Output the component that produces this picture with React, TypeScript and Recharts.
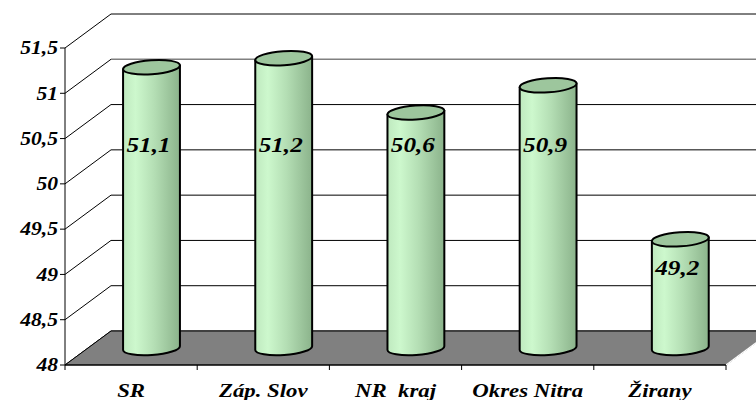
import React from 'react';
import { BarChart, Bar, XAxis, YAxis, ReferenceLine, LabelList } from 'recharts';

const categories = ['SR', 'Záp. Slov', 'NR  kraj', 'Okres Nitra', 'Žirany'];
const values = [51.1, 51.2, 50.6, 50.9, 49.2];
const yTicks = [48, 48.5, 49, 49.5, 50, 50.5, 51, 51.5];

const data = categories.map((name, i) => ({ name, value: values[i] }));

// 3d look: back wall offset and the half-depth offset for the cylinders
const DEPTH_X = 46;
const DEPTH_Y = 34;
const BAR_DX = 20;
const BAR_DY = 17;
const W = 756;
const H = 400;
const PLOT_LEFT = 65;
const PLOT_RIGHT = 726;
const PLOT_BOTTOM = 365;
const BAND = (PLOT_RIGHT - PLOT_LEFT) / categories.length;
// the original text is stretched sideways
const STRETCH = 1.2;

const fontStyle: React.CSSProperties = {
  fontFamily: '"Liberation Serif", "Times New Roman", serif',
  fontWeight: 'bold',
  fontStyle: 'italic',
  fill: '#000',
  whiteSpace: 'pre',
};

function WideText({ x, y, size, anchor, children }: any) {
  return (
    <text
      x={0}
      y={0}
      dy="0.35em"
      textAnchor={anchor}
      fontSize={size}
      style={fontStyle}
      transform={`translate(${x},${y}) scale(${STRETCH},1)`}
    >
      {children}
    </text>
  );
}

function WallLine(props: any) {
  const { x1, y1, x2, value } = props;
  const stroke = value === 51 ? '#808080' : '#000';
  return (
    <g>
      <line x1={x1} y1={y1} x2={x1 + DEPTH_X} y2={y1 - DEPTH_Y} stroke="#000" strokeWidth={1} />
      <line x1={x1 + DEPTH_X} y1={y1 - DEPTH_Y} x2={x2 + DEPTH_X} y2={y1 - DEPTH_Y} stroke={stroke} strokeWidth={value === 51 ? 1.5 : 1} />
    </g>
  );
}

function Floor(props: any) {
  const { x1, y1, x2 } = props;
  const pts = [
    [x1, y1],
    [x2, y1],
    [x2 + DEPTH_X, y1 - DEPTH_Y],
    [x1 + DEPTH_X, y1 - DEPTH_Y],
  ]
    .map((p) => p.join(','))
    .join(' ');
  return (
    <g>
      <polygon points={pts} fill="#808080" stroke="#000" strokeWidth={1} />
      <line x1={x2} y1={y1} x2={x2 + DEPTH_X} y2={y1 - DEPTH_Y} stroke="#fff" strokeWidth={1.5} />
    </g>
  );
}

function Cylinder(props: any) {
  const { x, y, width, height } = props;
  if (width == null || height == null) return null;
  const cx = x + width / 2 + BAR_DX;
  const top = y - BAR_DY;
  const bottom = y + height - BAR_DY;
  const rx = width / 2;
  const ry = 7;
  const a = (4 * Math.PI) / 180;
  const ex = rx * Math.cos(a);
  const ey = rx * Math.sin(a);
  const body =
    `M${cx - ex},${top + ey} L${cx - ex},${bottom + ey} ` +
    `A${rx},${ry} -4 0 0 ${cx + ex},${bottom - ey} L${cx + ex},${top - ey} Z`;
  return (
    <g>
      <defs>
        <linearGradient id="cylBody" x1="0" y1="0" x2="1" y2="0">
          <stop offset="0%" stopColor="#bfe9bf" />
          <stop offset="22%" stopColor="#cdf8cd" />
          <stop offset="55%" stopColor="#b4deb4" />
          <stop offset="100%" stopColor="#8bb38b" />
        </linearGradient>
      </defs>
      <path d={body} fill="url(#cylBody)" stroke="#000" strokeWidth={2} strokeLinejoin="round" />
      <ellipse
        cx={cx}
        cy={top}
        rx={rx}
        ry={ry}
        fill="#9dc69d"
        stroke="#000"
        strokeWidth={2}
        transform={`rotate(-4 ${cx} ${top})`}
      />
    </g>
  );
}

function ValueLabel(props: any) {
  const { x, y, width, height, value } = props;
  if (value == null) return null;
  const cx = x + width / 2 + BAR_DX - 3;
  const top = y - BAR_DY;
  const base = y + height;
  const perUnit = height / (value - 48);
  const band = base - 2.25 * perUnit - BAR_DY;
  const ly = Math.max(band, top + 28);
  return (
    <WideText x={cx} y={ly} size={21} anchor="middle">
      {String(value).replace('.', ',')}
    </WideText>
  );
}

function CategoryTick(props: any) {
  const { x, payload, index } = props;
  return (
    <g>
      <line x1={x - BAND / 2} y1={PLOT_BOTTOM} x2={x - BAND / 2} y2={PLOT_BOTTOM + 5} stroke="#000" />
      {index === categories.length - 1 && (
        <line x1={x + BAND / 2} y1={PLOT_BOTTOM} x2={x + BAND / 2} y2={PLOT_BOTTOM + 5} stroke="#000" />
      )}
      <WideText x={x} y={390} size={19} anchor="middle">
        {payload.value}
      </WideText>
    </g>
  );
}

function ValueTick(props: any) {
  const { x, y, payload } = props;
  return (
    <WideText x={x} y={y} size={18} anchor="end">
      {String(payload.value).replace('.', ',')}
    </WideText>
  );
}

export default function App() {
  return (
    <div style={{ position: 'absolute', left: 0, top: 0, width: W, height: H, background: '#fff' }}>
      <BarChart
        width={W}
        height={H}
        data={data}
        margin={{ top: 48, right: W - PLOT_RIGHT, left: 0, bottom: 0 }}
        barSize={57}
      >
        {yTicks.map((t) => (
          <ReferenceLine
            key={t}
            y={t}
            ifOverflow="visible"
            zIndex={-80}
            shape={(p: any) => <WallLine {...p} value={t} />}
          />
        ))}
        <ReferenceLine y={48} ifOverflow="visible" zIndex={-70} shape={(p: any) => <Floor {...p} />} />
        <XAxis
          dataKey="name"
          height={H - PLOT_BOTTOM}
          tickLine={false}
          axisLine={{ stroke: '#000' }}
          tick={<CategoryTick />}
          interval={0}
        />
        <YAxis
          width={PLOT_LEFT}
          domain={[48, 51.5]}
          ticks={yTicks}
          interval={0}
          tickSize={5}
          tickMargin={2}
          axisLine={{ stroke: '#000' }}
          tickLine={{ stroke: '#000' }}
          tick={<ValueTick />}
        />
        <Bar dataKey="value" shape={<Cylinder />} isAnimationActive={false}>
          <LabelList dataKey="value" content={<ValueLabel />} />
        </Bar>
      </BarChart>
    </div>
  );
}
